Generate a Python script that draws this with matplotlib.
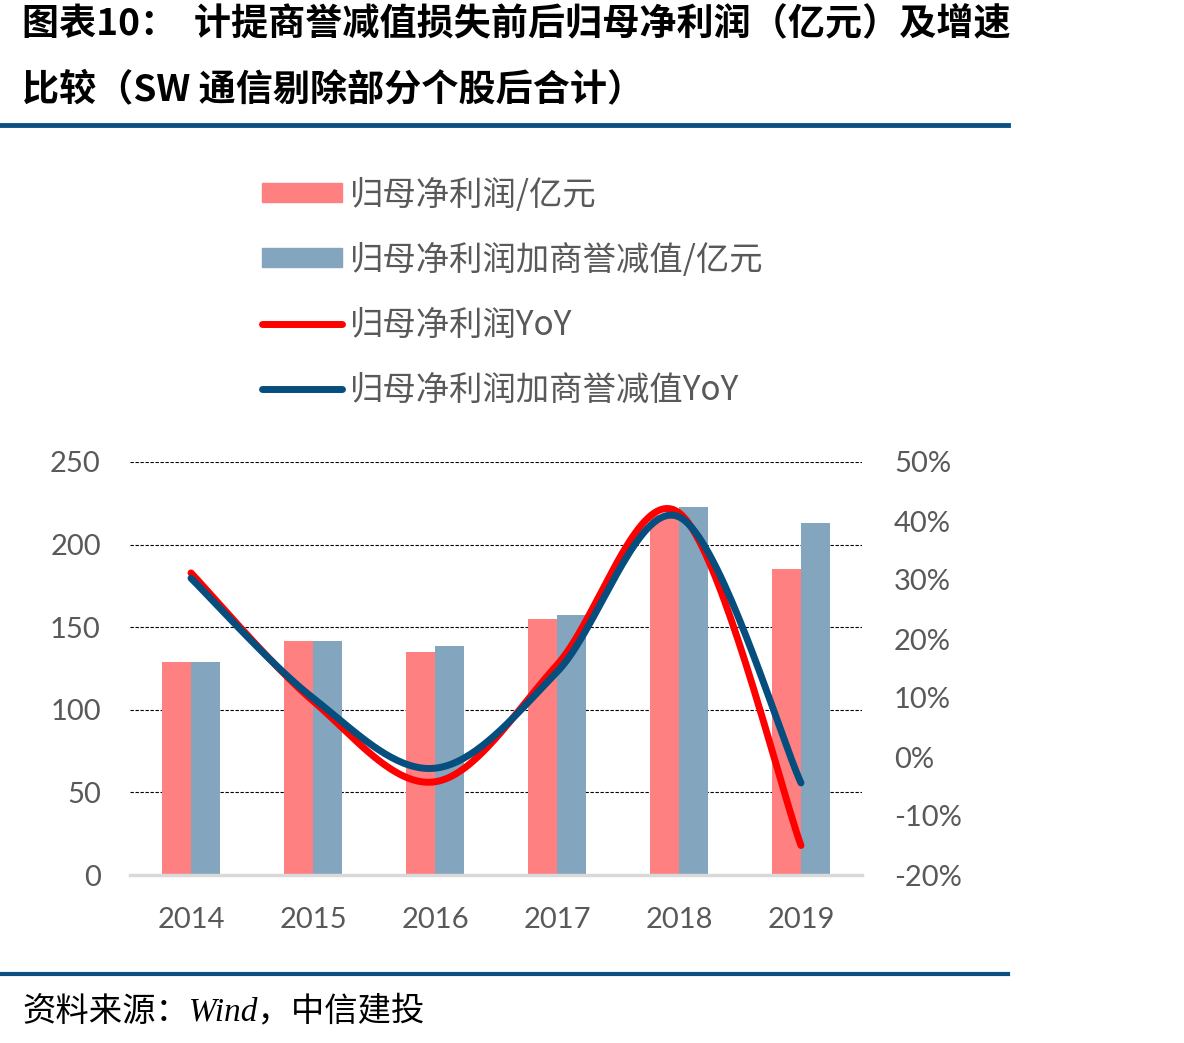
import numpy as np
import matplotlib
matplotlib.use("Agg")
import matplotlib.pyplot as plt
from matplotlib.lines import Line2D
from matplotlib.patches import Patch
from matplotlib.ticker import FuncFormatter

plt.rcParams['font.family'] = ['Noto Sans CJK SC', 'DejaVu Sans']

years = ['2014', '2015', '2016', '2017', '2018', '2019']
profit = [129, 141.5, 135, 155, 218, 185]
profit_plus_gw = [129, 141.5, 138.5, 157.5, 222.5, 213]
profit_yoy = [0.312, 0.095, -0.042, 0.156, 0.414, -0.150]
profit_plus_gw_yoy = [0.303, 0.100, -0.019, 0.144, 0.407, -0.044]

labels = ['归母净利润/亿元', '归母净利润加商誉减值/亿元', '归母净利润YoY', '归母净利润加商誉减值YoY']
title1 = '图表10：  计提商誉减值损失前后归母净利润（亿元）及增速'
title2 = '比较（SW 通信剔除部分个股后合计）'
source = '资料来源：Wind，中信建投'

C_RED_BAR = '#FF8080'
C_BLUE_BAR = '#83A6BE'
C_RED = '#FF0000'
C_BLUE = '#064E7E'
C_TEXT = '#595959'
C_RULE = '#0B4F82'


def catmull_rom(xs, ys, n=40):
    xs = np.asarray(xs, float)
    ys = np.asarray(ys, float)
    P = np.column_stack([xs, ys])
    P = np.vstack([P[0], P, P[-1]])
    out = []
    for i in range(1, len(P) - 2):
        p0, p1, p2, p3 = P[i - 1], P[i], P[i + 1], P[i + 2]
        t = np.linspace(0, 1, n)[:, None]
        c1 = p1 + (p2 - p0) / 6.0
        c2 = p2 - (p3 - p1) / 6.0
        seg = ((1 - t) ** 3) * p1 + 3 * ((1 - t) ** 2) * t * c1 + 3 * (1 - t) * t ** 2 * c2 + t ** 3 * p2
        out.append(seg if i == 1 else seg[1:])
    out = np.vstack(out)
    return out[:, 0], out[:, 1]


fig = plt.figure(figsize=(11.84, 10.43), dpi=100)
W, H = 1184, 1043

ax = fig.add_axes([130 / W, 1 - 875 / H, (862 - 130) / W, (875 - 462) / H])
x = np.arange(len(years))
bw = 0.237
ax.bar(x - bw / 2, profit, width=bw, color=C_RED_BAR, zorder=2)
ax.bar(x + bw / 2, profit_plus_gw, width=bw, color=C_BLUE_BAR, zorder=2)
ax.set_xlim(-0.5, len(years) - 0.5)
ax.set_ylim(0, 250)
ax.set_yticks(np.arange(0, 251, 50))
ax.set_xticks(x)
ax.set_xticklabels(years)
ax.yaxis.grid(True, linestyle=(0, (3, 1.5)), color='black', linewidth=0.8)
ax.set_axisbelow(True)
for s in ['top', 'right', 'left']:
    ax.spines[s].set_visible(False)
ax.spines['bottom'].set_color('#D9D9D9')
ax.spines['bottom'].set_linewidth(2.5)
ax.tick_params(axis='both', length=0, labelsize=21, labelcolor=C_TEXT)
ax.tick_params(axis='y', pad=21)
ax.tick_params(axis='x', pad=23)
for lab in ax.get_xticklabels() + ax.get_yticklabels():
    lab.set_family(['Lato', 'DejaVu Sans'])

ax2 = ax.twinx()
ax2.set_ylim(-0.2, 0.5)
ax2.set_yticks(np.arange(-0.2, 0.501, 0.1))
ax2.yaxis.set_major_formatter(FuncFormatter(lambda v, p: f'{v*100:.0f}%'))
for s in ['top', 'right', 'left', 'bottom']:
    ax2.spines[s].set_visible(False)
ax2.tick_params(axis='y', length=0, labelsize=21, labelcolor=C_TEXT, pad=23)
for lab in ax2.get_yticklabels():
    lab.set_family(['Lato', 'DejaVu Sans'])

sx, sy = catmull_rom(x, profit_yoy)
ax2.plot(sx, sy, color=C_RED, linewidth=5, solid_capstyle='round', zorder=3)
sx, sy = catmull_rom(x, profit_plus_gw_yoy)
ax2.plot(sx, sy, color=C_BLUE, linewidth=5, solid_capstyle='round', zorder=4)

handles = [Patch(color=C_RED_BAR), Patch(color=C_BLUE_BAR),
           Line2D([0], [0], color=C_RED, linewidth=5, solid_capstyle='round'),
           Line2D([0], [0], color=C_BLUE, linewidth=5, solid_capstyle='round')]
leg = fig.legend(handles, labels, loc='upper left', bbox_to_anchor=(245 / W, 1 - 161 / H),
                 frameon=False, fontsize=24, handlelength=2.4, handleheight=0.5,
                 handletextpad=0.25, labelspacing=0.9, borderpad=0)
for t in leg.get_texts():
    t.set_color(C_TEXT)

fig.text(22 / W, 1 - 25 / H, title1, fontsize=26.7, fontweight='bold', va='center', ha='left', color='black')
fig.text(22 / W, 1 - 90 / H, title2, fontsize=26.7, fontweight='bold', va='center', ha='left', color='black')

fig.add_artist(Line2D([0, 1008 / W], [1 - 125 / H, 1 - 125 / H], color=C_RULE, linewidth=3.5))
fig.add_artist(Line2D([0, 1008 / W], [1 - 974 / H, 1 - 974 / H], color=C_RULE, linewidth=3))

fig.text(22 / W, 1 - 1011 / H, source, fontsize=24, style='italic', va='center', ha='left',
         color='black', family=['Liberation Serif', 'Noto Sans CJK SC'])

fig.savefig('out.png', dpi=100)
